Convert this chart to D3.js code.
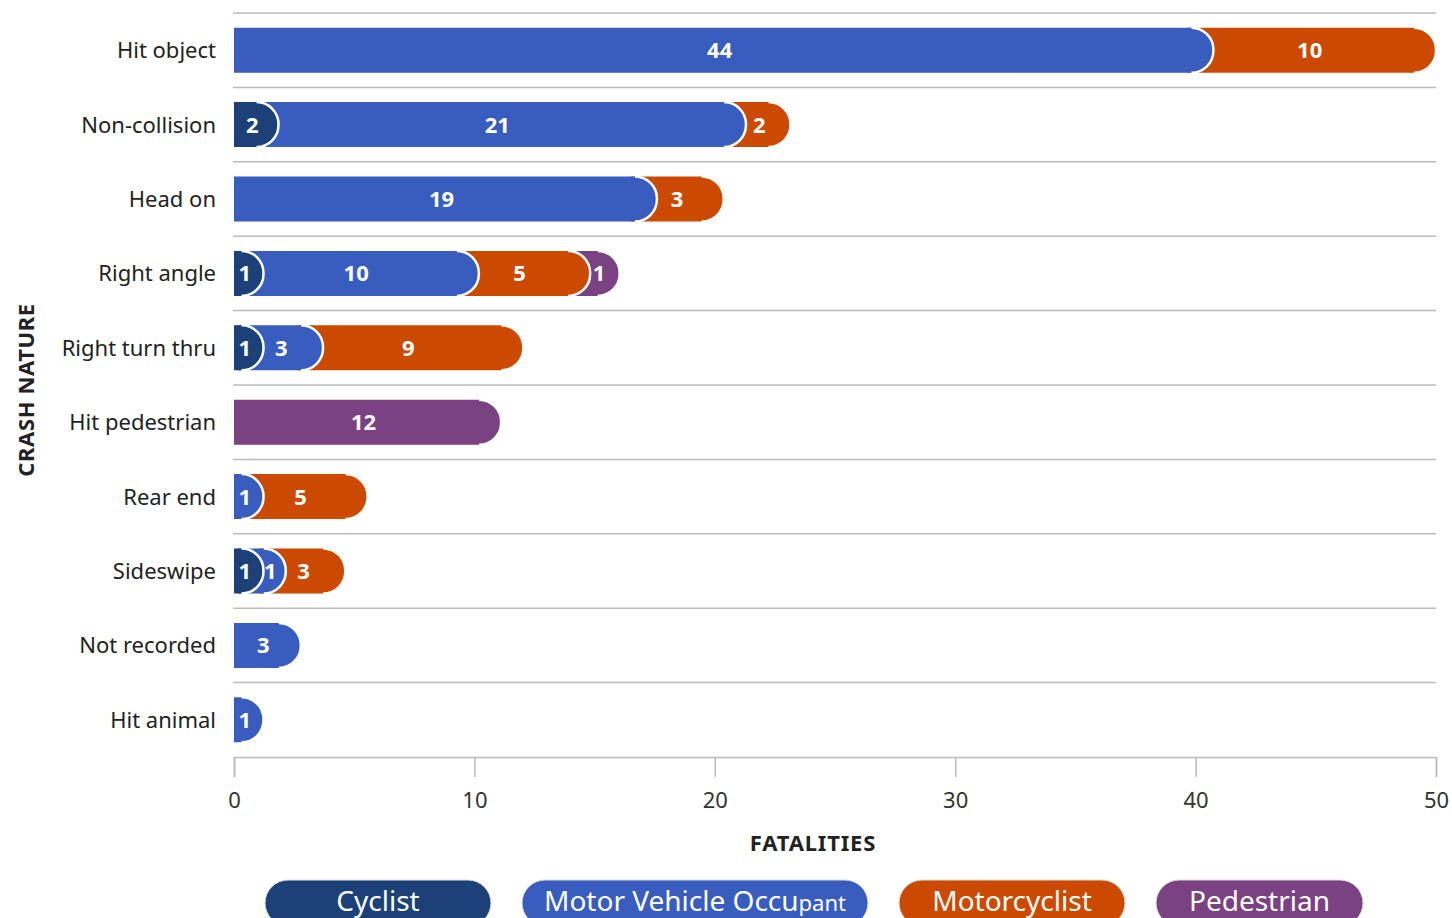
<!DOCTYPE html>
<html><head><meta charset="utf-8">
<script src="https://cdn.jsdelivr.net/npm/d3@7"></script>
<style>
html,body{margin:0;padding:0;background:#fff;overflow:hidden}
svg{display:block}
text{font-family:"Noto Sans",sans-serif}
</style></head>
<body>
<svg id="chart" width="1452" height="918"></svg>
<script>
const categories = ["Hit object","Non-collision","Head on","Right angle","Right turn thru","Hit pedestrian","Rear end","Sideswipe","Not recorded","Hit animal"];
const seriesNames = ["Cyclist","Motor Vehicle Occupant","Motorcyclist","Pedestrian"];
const cyclist      = [0, 2, 0, 1, 1, 0, 0, 1, 0, 0];
const motorVehicle = [44,21,19,10, 3, 0, 1, 1, 3, 1];
const motorcyclist = [10, 2, 3, 5, 9, 0, 5, 3, 0, 0];
const pedestrian   = [0, 0, 0, 1, 0,12, 0, 0, 0, 0];
const xTicks = [0,10,20,30,40,50];

const colors = ["#1c4178","#385dbf","#cc4a00","#7a4282"];
const legendWidths = [226,346,226,207];

(function(){
const svg = d3.select("#chart");
const mLeft = 234, mRight = 1436, mTop = 13, mBottom = 757;
const seriesData = [cyclist, motorVehicle, motorcyclist, pedestrian];
const totals = categories.map((c,i)=>d3.sum(seriesData,s=>s[i]));

const xBar = d3.scaleLinear().domain([0, d3.max(totals)]).range([mLeft, mRight]);
const xAxisScale = d3.scaleLinear().domain([0, 50]).range([mLeft, mRight]);
const y = d3.scaleBand().domain(categories).range([mTop, mBottom]).paddingInner(0.395).paddingOuter(0.1975);
const step = y.step();

const seps = d3.range(categories.length).map(i => mTop + i*step);
svg.append("g").selectAll("line").data(seps).join("line")
  .attr("x1", mLeft-1).attr("x2", mRight).attr("y1", d=>d).attr("y2", d=>d)
  .attr("stroke","#bbb").attr("stroke-width",1.5);

const axis = svg.append("g").attr("transform",`translate(0,${mBottom})`)
  .call(d3.axisBottom(xAxisScale).tickValues(xTicks).tickSize(20).tickPadding(15).tickFormat(d3.format("d")));
axis.select(".domain").attr("stroke","#bbb").attr("stroke-width",1.5);
axis.selectAll(".tick line").attr("stroke","#bbb").attr("stroke-width",1.5);
axis.selectAll(".tick text").attr("font-size",22).attr("fill","#333").attr("font-family","Noto Sans");

svg.append("g").selectAll("text").data(categories).join("text")
  .attr("x",216).attr("y",d=>y(d)+y.bandwidth()/2+8)
  .attr("text-anchor","end").attr("font-size",22).attr("fill","#222").text(d=>d);

const bh = y.bandwidth();
const r = 22;
const minW = 29.5;
function capPath(x0,x1,y0,h){
  const rr = Math.min(r, (x1-x0));
  return `M${x0},${y0}H${x1-rr}A${rr},${rr} 0 0 1 ${x1},${y0+rr}V${y0+h-rr}A${rr},${rr} 0 0 1 ${x1-rr},${y0+h}H${x0}Z`;
}
function capStroke(x1,y0,h){
  const rr = r;
  return `M${x1-rr},${y0}A${rr},${rr} 0 0 1 ${x1},${y0+rr}V${y0+h-rr}A${rr},${rr} 0 0 1 ${x1-rr},${y0+h}`;
}
const gBars = svg.append("g");
categories.forEach((cat,i)=>{
  const segs = [];
  let cum = 0;
  let prevEnd = mLeft;
  seriesData.forEach((s,k)=>{
    const v = s[i];
    if(v>0){
      const xs = xBar(cum), xe0 = xBar(cum+v);
      const xe = Math.max(xe0, xs + minW);
      segs.push({k, v, xs, xe, vs: prevEnd, first: segs.length===0});
      prevEnd = xe;
      cum += v;
    }
  });
  const y0 = y(cat);
  const g = gBars.append("g");
  segs.slice().reverse().forEach(sg=>{
    const x0 = sg.first ? mLeft : sg.vs - r - 4;
    g.append("path").attr("d",capPath(x0, sg.xe, y0, bh)).attr("fill",colors[sg.k]);
    g.append("path").attr("d",capStroke(sg.xe, y0, bh)).attr("fill","none").attr("stroke","#fff").attr("stroke-width",2.5);
  });
  segs.forEach(sg=>{
    const w = sg.xe - sg.vs;
    const off = sg.first ? 4 : Math.min(15, w*0.2);
    const cx = (sg.vs + sg.xe)/2 - off;
    g.append("text").attr("x",cx).attr("y",y0+bh/2+8)
      .attr("text-anchor","middle").attr("font-size",22).attr("font-weight","bold")
      .attr("fill","#fff").text(sg.v);
  });
});

svg.append("text").attr("x",813).attr("y",851).attr("text-anchor","middle")
  .attr("font-size",22).attr("font-weight","bold").attr("letter-spacing",0.8).attr("fill","#222").text("FATALITIES");
svg.append("text").attr("transform","translate(34,390) rotate(-90)").attr("text-anchor","middle")
  .attr("font-size",22).attr("font-weight","bold").attr("letter-spacing",0.6).attr("fill","#222").text("CRASH NATURE");

const gap = 31;
const legStart = 265;
const lg = svg.append("g");
let lx = legStart;
seriesNames.forEach((n,k)=>{
  const w = legendWidths[k];
  lg.append("rect").attr("x",lx).attr("y",880).attr("width",w).attr("height",46).attr("rx",23)
    .attr("fill",colors[k]).attr("stroke","#ddd").attr("stroke-width",1);
  const t = lg.append("text").attr("x",lx+w/2).attr("y",911).attr("text-anchor","middle")
    .attr("font-size",28).attr("fill","#fff");
  if(n==="Motor Vehicle Occupant"){
    t.append("tspan").text("Motor Vehicle Occu");
    t.append("tspan").attr("font-size",22).text("pant");
  } else t.text(n);
  lx += w + gap;
});
})();
</script>
</body></html>
